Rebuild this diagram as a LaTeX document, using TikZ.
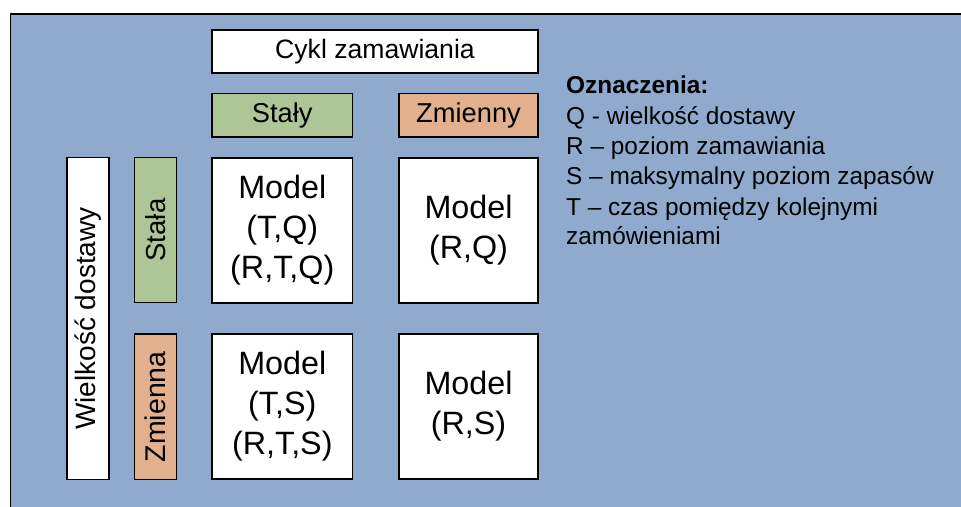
\documentclass[tikz,border=0pt]{standalone}
\usepackage{fontspec}
\setmainfont{Liberation Sans}
\definecolor{panelblue}{RGB}{143,170,204}
\definecolor{fixgreen}{RGB}{173,198,149}
\definecolor{varorange}{RGB}{226,176,140}
\tikzset{
  cell/.style={draw=black, line width=1.6pt, inner sep=0pt, align=center},
  labelfont/.style={font=\fontsize{27.3}{32}\selectfont},
  modelfont/.style={font=\fontsize{32.3}{40}\selectfont},
  legendline/.style={anchor=base west, inner sep=0pt, font=\fontsize{24.4}{30}\selectfont},
}
\begin{document}
\begin{tikzpicture}[x=1pt, y=-1pt]
  \useasboundingbox (0,0) rectangle (961,506);
  \clip (0,0) rectangle (961,506);
  \fill[white] (0,0) rectangle (961,506);
  % panel
  \fill[panelblue] (10.5,14) rectangle (990,540);
  \draw[line width=1.8pt, black] (10.5,540) -- (10.5,14) -- (990,14);

  % column headers
  \node[cell, font=\fontsize{26.6}{32}\selectfont, fill=white, minimum width=326pt, minimum height=43pt] (cykl) at (375,51.5) {Cykl zamawiania};
  \node[cell, labelfont, fill=fixgreen, minimum width=140.5pt, minimum height=43.5pt] (staly) at (282.25,115.25) {Stały};
  \node[cell, labelfont, fill=varorange, minimum width=139pt, minimum height=43.5pt] (zmienny) at (468.5,115.25) {Zmienny};

  % row headers
  \node[cell, font=\fontsize{28}{32}\selectfont, fill=white, rotate=90, minimum width=322pt, minimum height=42pt] (wielkosc) at (88,318.5) {Wielkość dostawy};
  \node[cell, font=\fontsize{27.5}{32}\selectfont, fill=fixgreen, rotate=90, minimum width=145pt, minimum height=42pt] (stala) at (155.5,230) {Stała};
  \node[cell, font=\fontsize{28.5}{32}\selectfont, fill=varorange, rotate=90, minimum width=145.5pt, minimum height=42pt] (zmienna) at (155.5,406.75) {Zmienna};

  % model cells
  \node[cell, modelfont, fill=white, minimum width=140.5pt, minimum height=145pt] (mTQ) at (282.25,230.5) {Model\\(T,Q)\\(R,T,Q)};
  \node[cell, modelfont, fill=white, minimum width=139pt, minimum height=145pt] (mRQ) at (468.5,230.5) {Model\\(R,Q)};
  \node[cell, modelfont, fill=white, minimum width=140.5pt, minimum height=145pt] (mTS) at (282.25,406.5) {Model\\(T,S)\\(R,T,S)};
  \node[cell, modelfont, fill=white, minimum width=139pt, minimum height=145pt] (mRS) at (468.5,406.5) {Model\\(R,S)};

  % legend
  \node[legendline] (leg0) at (566,93.3) {\bfseries Oznaczenia:};
  \node[legendline] (leg1) at (566,124) {Q - wielkość dostawy};
  \node[legendline] (leg2) at (566,154) {R – poziom zamawiania};
  \node[legendline] (leg3) at (566,184.3) {S – maksymalny poziom zapasów};
  \node[legendline] (leg4) at (566,215) {T – czas pomiędzy kolejnymi};
  \node[legendline] (leg5) at (566,244.3) {zamówieniami};
\end{tikzpicture}
\end{document}
